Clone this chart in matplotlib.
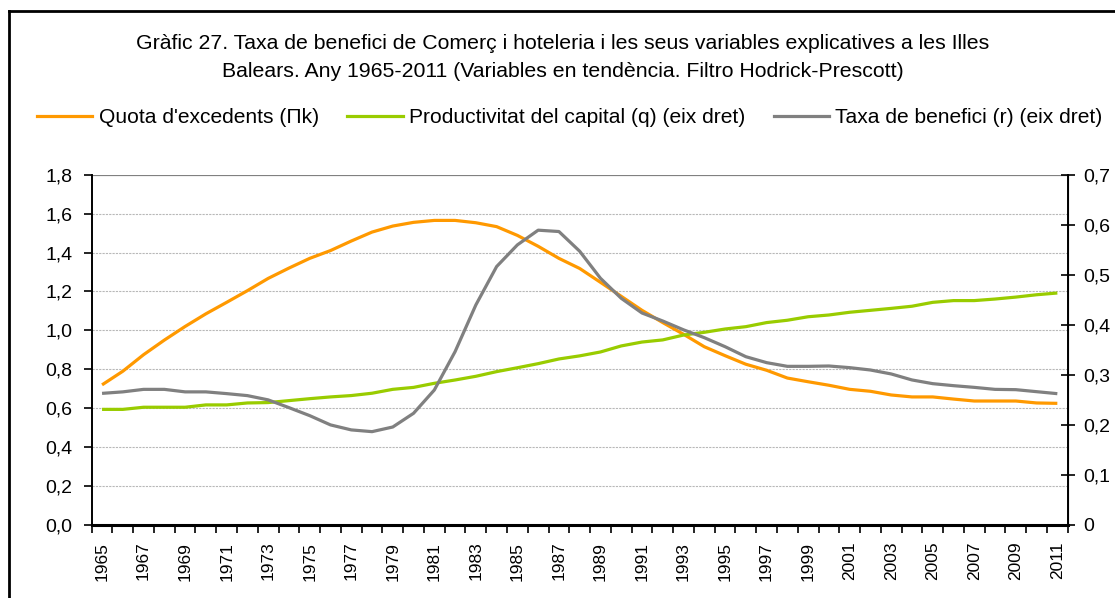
#!/usr/bin/env python3
"""
Profit rate of Trade and hotels in the Balearic Islands, 1965-2011,
together with its explanatory variables (Hodrick-Prescott trends).

This script:
1. Holds the three trend series read off the original chart
2. Draws the surplus share on the left axis
3. Draws capital productivity and the profit rate on the right axis
4. Saves the figure as out.png
"""

import numpy as np
import matplotlib.pyplot as plt
from matplotlib.lines import Line2D
from matplotlib.ticker import FixedLocator, FuncFormatter

plt.rcParams["font.family"] = ["Liberation Sans", "DejaVu Sans"]

YEARS = list(range(1965, 2012))

# Quota d'excedents (left axis)
QUOTA = [
    0.72, 0.79, 0.875, 0.95, 1.02, 1.085, 1.144, 1.204, 1.267, 1.32,
    1.37, 1.41, 1.459, 1.505, 1.536, 1.555, 1.565, 1.565, 1.553, 1.533,
    1.488, 1.432, 1.37, 1.318, 1.247, 1.175, 1.103, 1.04, 0.98, 0.916,
    0.87, 0.826, 0.795, 0.755, 0.736, 0.718, 0.697, 0.687, 0.668, 0.658,
    0.658, 0.647, 0.637, 0.637, 0.637, 0.627, 0.625,
]

# Productivitat del capital (right axis, stored on the left scale as drawn)
PRODUCTIVITAT = [
    0.594, 0.594, 0.605, 0.605, 0.605, 0.617, 0.617, 0.627, 0.629, 0.639,
    0.649, 0.658, 0.665, 0.677, 0.697, 0.707, 0.728, 0.745, 0.764, 0.788,
    0.808, 0.829, 0.853, 0.869, 0.889, 0.92, 0.94, 0.951, 0.976, 0.99,
    1.007, 1.019, 1.04, 1.052, 1.07, 1.079, 1.093, 1.103, 1.113, 1.124,
    1.144, 1.153, 1.153, 1.161, 1.171, 1.183, 1.192,
]

# Taxa de benefici (right axis)
TAXA = [
    0.263, 0.266, 0.271, 0.271, 0.266, 0.266, 0.2625, 0.2585, 0.25, 0.2345,
    0.2185, 0.2, 0.19, 0.1865, 0.1958, 0.2232, 0.2697, 0.3464, 0.4397, 0.5164,
    0.5597, 0.5891, 0.5864, 0.547, 0.493, 0.453, 0.4236, 0.4076, 0.39, 0.3743,
    0.3563, 0.3363, 0.3244, 0.317, 0.317, 0.3177, 0.3144, 0.3097, 0.3018, 0.2898,
    0.2824, 0.2784, 0.275, 0.271, 0.2704, 0.2664, 0.2624,
]

ORANGE = "#FF9900"
GREEN = "#99CC00"
GREY = "#808080"


def comma_left(value, pos):
    """Left axis labels with a decimal comma"""
    return f"{value:.1f}".replace(".", ",")


def comma_right(value, pos):
    """Right axis labels with a decimal comma, plain zero"""
    if abs(value) < 1e-9:
        return "0"
    return f"{value:.1f}".replace(".", ",")


def plot_chart():
    """
    Draw the two-axis line chart and save it
    """
    fig = plt.figure(figsize=(11.15, 5.98), dpi=100)
    ax = fig.add_axes([0.0822, 0.1221, 0.8754, 0.5858])
    ax2 = ax.twinx()

    x = np.arange(len(YEARS))
    prod_right = np.array(PRODUCTIVITAT) * 0.7 / 1.8  # convert to right scale

    ax.plot(x, QUOTA, color=ORANGE, linewidth=2.3, solid_capstyle="butt", zorder=3)
    ax2.plot(x, prod_right, color=GREEN, linewidth=2.3, solid_capstyle="butt")
    ax2.plot(x, TAXA, color=GREY, linewidth=2.3, solid_capstyle="butt")

    # Left axis
    ax.set_xlim(-0.5, len(YEARS) - 0.5)
    ax.set_ylim(0, 1.8)
    ax.set_yticks(np.arange(0, 1.81, 0.2))
    ax.yaxis.set_major_formatter(FuncFormatter(comma_left))
    for yv in np.arange(0.2, 1.7, 0.2):
        ax.axhline(yv, color="#b8b8b8", linewidth=0.8, linestyle=(0, (2, 1)), zorder=0)
    ax.axhline(1.8, color=GREY, linewidth=1.6, zorder=0)

    # Right axis
    ax2.set_ylim(0, 0.7)
    ax2.set_yticks(np.arange(0, 0.71, 0.1))
    ax2.yaxis.set_major_formatter(FuncFormatter(comma_right))

    # Category axis: ticks between years, labels every other year
    ax.set_xticks(x[::2])
    ax.set_xticklabels([str(y) for y in YEARS[::2]], rotation=90, fontsize=12.5)
    ax.xaxis.set_minor_locator(FixedLocator(np.arange(-0.5, len(YEARS), 1.0)))
    ax.tick_params(axis="x", which="major", length=0, pad=12)
    ax.tick_params(axis="x", which="minor", length=6, width=1.2, color="black")
    ax.tick_params(axis="y", length=6, width=1.2, labelsize=14, pad=8)
    ax2.tick_params(axis="y", direction="inout", length=10, width=1.2, labelsize=14, pad=6)

    for spine_ax in (ax, ax2):
        spine_ax.spines["top"].set_visible(False)
    ax.spines["left"].set_linewidth(1.4)
    ax.spines["bottom"].set_linewidth(2.2)
    ax2.spines["right"].set_linewidth(1.4)
    ax2.spines["left"].set_visible(False)
    ax2.spines["bottom"].set_visible(False)

    # Title
    fig.text(0.505, 0.928,
             "Gràfic 27. Taxa de benefici de Comerç i hoteleria i les seus variables explicatives a les Illes",
             ha="center", va="center", fontsize=15.3)
    fig.text(0.505, 0.880,
             "Balears. Any 1965-2011 (Variables en tendència. Filtro Hodrick-Prescott)",
             ha="center", va="center", fontsize=15.3)

    # Legend
    handles = [
        Line2D([], [], color=ORANGE, linewidth=2.3),
        Line2D([], [], color=GREEN, linewidth=2.3),
        Line2D([], [], color=GREY, linewidth=2.3),
    ]
    labels = [
        "Quota d'excedents (Πk)",
        "Productivitat del capital (q) (eix dret)",
        "Taxa de benefici (r) (eix dret)",
    ]
    fig.legend(handles, labels, loc="center", bbox_to_anchor=(0.511, 0.803), ncol=3,
               frameon=False, fontsize=15.1, handlelength=2.65, handletextpad=0.3,
               columnspacing=1.35, borderpad=0, borderaxespad=0)

    # Chart area border
    fig.add_artist(Line2D([9 / 1115, 9 / 1115], [0, 1 - 11 / 598],
                          transform=fig.transFigure, color="black", linewidth=2))
    fig.add_artist(Line2D([9 / 1115, 1], [1 - 11 / 598, 1 - 11 / 598],
                          transform=fig.transFigure, color="black", linewidth=2))

    fig.savefig("out.png", dpi=100)
    plt.close(fig)


def main():
    """
    Main plotting function
    """
    print("Drawing chart...")
    plot_chart()
    print("Saved out.png")


if __name__ == "__main__":
    main()
